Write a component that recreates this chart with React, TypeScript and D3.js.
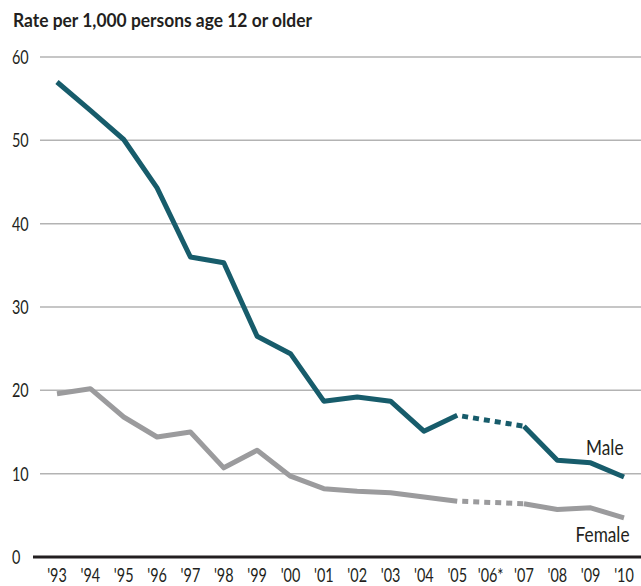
import { useRef, useEffect } from 'react';
import * as d3 from 'd3';

const WIDTH = 641;
const HEIGHT = 586;
const FONT = 'Lato, "Noto Sans", sans-serif';
const SQUEEZE = 0.82; // the original uses a condensed face
const TICK_SQUEEZE = 0.74;

const YEARS = ["'93", "'94", "'95", "'96", "'97", "'98", "'99", "'00", "'01", "'02", "'03", "'04", "'05", "'06*", "'07", "'08", "'09", "'10"];
const MALE = [57.0, 53.6, 50.1, 44.3, 36.0, 35.3, 26.5, 24.4, 18.7, 19.2, 18.7, 15.1, 17.0, null, 15.7, 11.6, 11.3, 9.6];
const FEMALE = [19.6, 20.2, 16.8, 14.4, 15.0, 10.7, 12.8, 9.7, 8.2, 7.9, 7.7, 7.2, 6.7, null, 6.4, 5.7, 5.9, 4.7];
const Y_TICKS = [0, 10, 20, 30, 40, 50, 60];

const MALE_COLOR = '#175c6b';
const FEMALE_COLOR = '#9b9b9d';
const INK = '#231f20';

type Pt = { year: string, v: number | null };

const App = () => {
	const ref = useRef<SVGSVGElement>(null);

	useEffect(() => {
		const svg = d3.select(ref.current);
		svg.selectAll('*').remove();

		const xScale = d3.scalePoint<string>().domain(YEARS).range([57, 624]);
		const yScale = d3.scaleLinear().domain([0, 60]).range([557, 57]);

		svg.append('text')
			.attr('x', 13)
			.attr('y', 27)
			.attr('font-family', FONT)
			.attr('font-weight', 'bold')
			.attr('font-size', 18.5)
			.attr('textLength', 299)
			.attr('lengthAdjust', 'spacingAndGlyphs')
			.attr('fill', INK)
			.text('Rate per 1,000 persons age 12 or older');

		// gridlines
		svg.append('g')
			.selectAll('line')
			.data(Y_TICKS.filter(t => t > 0))
			.join('line')
			.attr('x1', 40)
			.attr('x2', WIDTH)
			.attr('y1', d => yScale(d))
			.attr('y2', d => yScale(d))
			.attr('stroke', '#b3b3b3')
			.attr('stroke-width', 1.5);

		svg.append('line')
			.attr('x1', 33)
			.attr('x2', WIDTH)
			.attr('y1', yScale(0))
			.attr('y2', yScale(0))
			.attr('stroke', INK)
			.attr('stroke-width', 3);

		svg.append('g')
			.selectAll('text')
			.data(Y_TICKS)
			.join('text')
			.attr('transform', d => `translate(12,${yScale(d) + 7}) scale(${TICK_SQUEEZE},1)`)
			.attr('font-family', FONT)
			.attr('font-size', 19.5)
			.attr('fill', INK)
			.text(d => d);

		svg.append('g')
			.selectAll('text')
			.data(YEARS)
			.join('text')
			.attr('transform', d => `translate(${xScale(d)},582) scale(${TICK_SQUEEZE},1)`)
			.attr('text-anchor', 'middle')
			.attr('font-family', FONT)
			.attr('font-size', 19.5)
			.attr('fill', INK)
			.text(d => d);

		const line = d3.line<Pt>()
			.defined(d => d.v != null)
			.x(d => xScale(d.year)!)
			.y(d => yScale(d.v as number));

		const drawSeries = (values: (number | null)[], color: string) => {
			const pts: Pt[] = YEARS.map((year, i) => ({ year, v: values[i] }));
			svg.append('path')
				.attr('fill', 'none')
				.attr('stroke', color)
				.attr('stroke-width', 5)
				.attr('stroke-linejoin', 'round')
				.attr('d', line(pts));

			// dashed bridge over the missing year
			const gap = pts.findIndex(p => p.v == null);
			const bridge = [pts[gap - 1], pts[gap + 1]];
			svg.append('path')
				.attr('fill', 'none')
				.attr('stroke', color)
				.attr('stroke-width', 5)
				.attr('stroke-dasharray', '6 5')
				.attr('stroke-dashoffset', -5)
				.attr('d', line(bridge));
		};

		drawSeries(FEMALE, FEMALE_COLOR);
		drawSeries(MALE, MALE_COLOR);

		svg.append('text')
			.attr('transform', `translate(623.5,455) scale(${SQUEEZE},1)`)
			.attr('text-anchor', 'end')
			.attr('font-family', FONT)
			.attr('font-size', 21)
			.attr('fill', INK)
			.text('Male');

		svg.append('text')
			.attr('transform', `translate(629.5,542) scale(${SQUEEZE},1)`)
			.attr('text-anchor', 'end')
			.attr('font-family', FONT)
			.attr('font-size', 21)
			.attr('fill', INK)
			.text('Female');
	});

	return (
		<svg
			ref={ref}
			width={WIDTH}
			height={HEIGHT}
			style={{ position: 'absolute', left: 0, top: 0, background: '#fff' }}
		/>
	);
};

export default App;
